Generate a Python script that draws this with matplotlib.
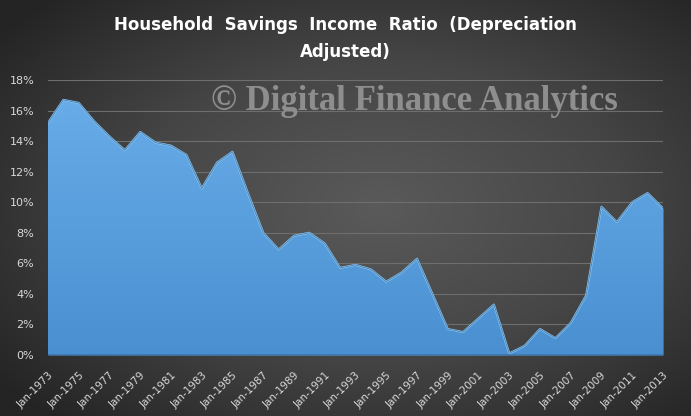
import numpy as np
import matplotlib
matplotlib.use("Agg")
import matplotlib.pyplot as plt
from matplotlib.colors import LinearSegmentedColormap

# Household savings income ratio, % (annual, Jan of each year)
years = list(range(1973, 2014))
ratio = [15.2, 16.7, 16.5, 15.3, 14.3, 13.4, 14.6, 13.9, 13.7, 13.1,
         10.9, 12.6, 13.3, 10.6, 8.0, 6.9, 7.8, 8.0, 7.3, 5.7,
         5.9, 5.6, 4.8, 5.4, 6.3, 4.0, 1.7, 1.5, 2.4, 3.3,
         0.1, 0.6, 1.7, 1.1, 2.1, 3.9, 9.7, 8.7, 10.0, 10.6, 9.6]
tick_years = list(range(1973, 2014, 2))
tick_labels = [f"Jan-{y}" for y in tick_years]
y_ticks = list(range(0, 20, 2))

W, H = 691, 416
fig = plt.figure(figsize=(W / 100, H / 100), dpi=100)

# dark radial gradient background
bg = fig.add_axes([0, 0, 1, 1], zorder=0)
gx, gy = np.meshgrid(np.linspace(-1.1, 0.9, 400), np.linspace(-1, 1, 250))
r = np.sqrt(gx ** 2 + gy ** 2)
bg_cmap = LinearSegmentedColormap.from_list("bg", ["#5a5a5a", "#464646", "#242424"])
bg.imshow(r, cmap=bg_cmap, aspect="auto", extent=[0, 1, 0, 1], vmin=0, vmax=1.4)
bg.axis("off")

ax = fig.add_axes([48 / W, (H - 355) / H, (663 - 48) / W, (355 - 80) / H], zorder=1)
ax.patch.set_alpha(0)

ax.set_xlim(1973, 2013)
ax.set_ylim(0, 18)

for v in y_ticks[1:]:
    ax.axhline(v, color="#6e6e6e", lw=0.8, zorder=1)

poly = ax.fill_between(years, ratio, 0, color="#5aa2e0", lw=0, zorder=2)
grad = np.linspace(1, 0, 256).reshape(-1, 1)
area_cmap = LinearSegmentedColormap.from_list("area", ["#4a8fd0", "#6aafea"])
img = ax.imshow(grad, cmap=area_cmap, aspect="auto", extent=[1973, 2013, 0, 18], zorder=2)
img.set_clip_path(poly.get_paths()[0], transform=ax.transData)
ax.plot(years, ratio, color="#8cc8f5", lw=1.5, zorder=3)
ax.plot(years, ratio, color="#2c5f8f", lw=0.6, zorder=3, alpha=0.7)
ax.axhline(0, color="#3a78b5", lw=2, zorder=3)

ax.set_yticks(y_ticks)
ax.set_yticklabels([f"{v}%" for v in y_ticks], color="#d9d9d9", fontsize=8)
ax.set_xticks(tick_years)
ax.set_xticklabels(tick_labels, rotation=45, ha="right", rotation_mode="anchor",
                   color="#d9d9d9", fontsize=7.5)
ax.tick_params(axis="y", length=0, pad=10)
ax.tick_params(axis="x", length=0, pad=11)
for s in ax.spines.values():
    s.set_visible(False)

fig.text(0.5, 1 - 25 / H, "Household  Savings  Income  Ratio  (Depreciation", ha="center",
         va="center", color="white", fontsize=12, fontweight="bold")
fig.text(0.5, 1 - 52 / H, "Adjusted)", ha="center", va="center", color="white",
         fontsize=12, fontweight="bold")

fig.text(414 / W, 1 - 101 / H, "\u00a9 Digital Finance Analytics", ha="center", va="center",
         color="#8e8e8e", fontsize=25, fontweight="bold", family="Liberation Serif", zorder=5)

fig.savefig("out.png", dpi=100)
